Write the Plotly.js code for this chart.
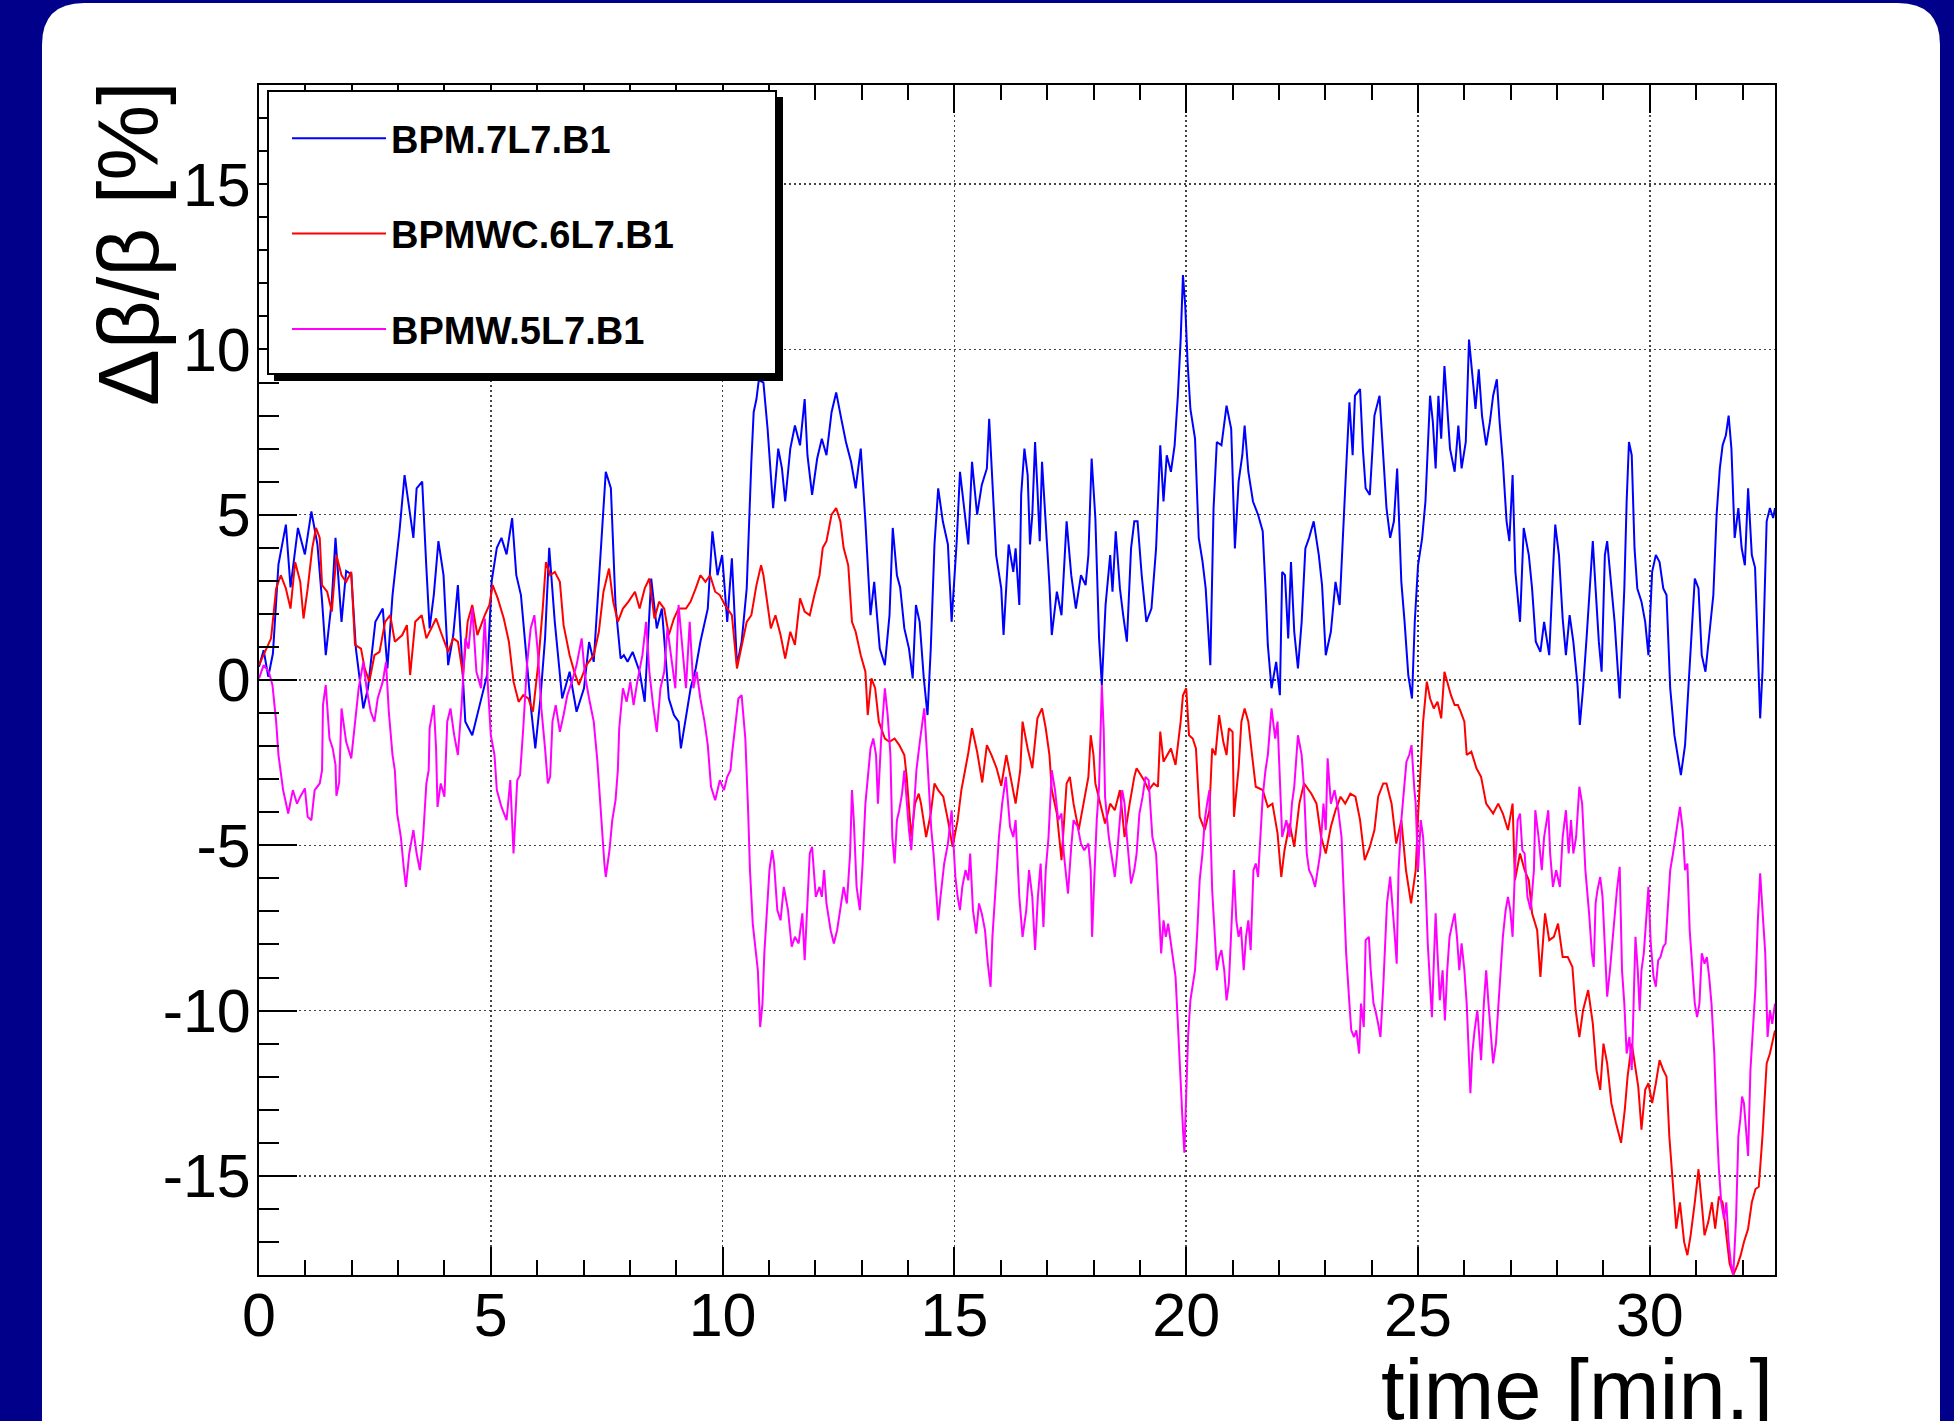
<!DOCTYPE html>
<html>
<head>
<meta charset="utf-8">
<script src="https://cdn.plot.ly/plotly-3.0.1.min.js"></script>
<style>
html,body{margin:0;padding:0;background:#00008b;}
#chart{width:1954px;height:1421px;}
</style>
</head>
<body>
<div id="chart"></div>
<script>
// ---- data ----
const seriesNames = ['BPM.7L7.B1', 'BPMWC.6L7.B1', 'BPMW.5L7.B1'];
const seriesColors = ['#0000ff', '#ff0000', '#ff00ff'];

const tBPM7 = [0.00,0.10,0.20,0.30,0.42,0.58,0.68,0.84,0.99,1.13,1.26,1.36,1.44,1.57,1.65,1.78,1.88,1.99,2.09,2.25,2.35,2.51,2.67,2.77,2.88,3.03,3.14,3.24,3.33,3.40,3.52,3.61,3.68,3.77,3.87,3.98,4.08,4.19,4.29,4.45,4.60,4.76,4.92,5.02,5.13,5.23,5.34,5.46,5.55,5.65,5.76,5.86,5.96,6.07,6.17,6.26,6.38,6.54,6.70,6.85,7.01,7.12,7.22,7.33,7.41,7.48,7.59,7.69,7.80,7.87,7.95,8.06,8.21,8.32,8.46,8.58,8.69,8.84,8.95,9.05,9.10,9.21,9.31,9.42,9.52,9.68,9.78,9.89,9.99,10.10,10.20,10.31,10.41,10.52,10.57,10.62,10.67,10.73,10.78,10.88,10.97,11.04,11.09,11.20,11.28,11.35,11.46,11.56,11.67,11.77,11.83,11.93,12.04,12.14,12.24,12.35,12.45,12.56,12.66,12.77,12.87,12.98,13.08,13.19,13.27,13.39,13.50,13.60,13.67,13.76,13.83,13.92,14.02,14.10,14.17,14.25,14.34,14.42,14.49,14.57,14.65,14.75,14.86,14.94,15.05,15.12,15.23,15.30,15.38,15.49,15.59,15.70,15.75,15.80,15.90,16.01,16.06,16.17,16.27,16.32,16.40,16.44,16.51,16.58,16.63,16.68,16.74,16.79,16.84,16.89,16.97,17.05,17.10,17.21,17.31,17.42,17.52,17.62,17.73,17.83,17.89,17.96,18.04,18.12,18.18,18.26,18.36,18.41,18.48,18.57,18.64,18.72,18.81,18.88,18.95,19.04,19.14,19.25,19.35,19.44,19.51,19.58,19.67,19.75,19.82,19.88,19.93,19.98,20.03,20.09,20.19,20.27,20.35,20.42,20.52,20.59,20.66,20.76,20.87,20.97,21.05,21.13,21.21,21.26,21.34,21.44,21.55,21.65,21.71,21.76,21.84,21.94,22.02,22.07,22.13,22.20,22.26,22.33,22.41,22.49,22.57,22.65,22.75,22.86,22.93,23.01,23.12,23.22,23.31,23.38,23.45,23.52,23.59,23.64,23.75,23.81,23.87,23.96,24.06,24.17,24.25,24.32,24.40,24.48,24.55,24.64,24.71,24.79,24.87,24.93,25.00,25.09,25.16,25.26,25.32,25.38,25.44,25.50,25.57,25.63,25.69,25.79,25.87,25.94,26.03,26.10,26.17,26.24,26.31,26.38,26.47,26.55,26.62,26.70,26.76,26.83,26.91,26.97,27.04,27.10,27.20,27.28,27.39,27.46,27.54,27.64,27.72,27.83,27.91,27.96,28.04,28.12,28.19,28.27,28.35,28.44,28.49,28.56,28.64,28.72,28.77,28.83,28.90,28.96,29.03,29.08,29.17,29.24,29.35,29.45,29.50,29.55,29.61,29.67,29.73,29.82,29.90,29.97,30.05,30.13,30.21,30.29,30.36,30.44,30.53,30.60,30.67,30.76,30.84,30.92,30.97,31.05,31.12,31.20,31.28,31.37,31.44,31.51,31.57,31.64,31.70,31.76,31.83,31.91,31.98,32.05,32.12,32.20,32.27,32.33,32.38,32.43,32.52,32.59,32.66,32.70];
const yBPM7 = [0.4,0.9,0.1,0.8,3.5,4.7,2.8,4.6,3.8,5.1,4.1,2.4,0.75,2.4,4.3,1.76,3.3,3.2,0.95,-0.86,-0.25,1.76,2.16,0.35,2.57,4.5,6.2,5.2,4.3,5.8,6.0,3.4,1.56,2.57,4.2,3.17,0.45,1.36,2.87,-1.26,-1.67,-0.76,0.15,3.0,4.0,4.3,3.8,4.9,3.17,2.57,0.75,-0.76,-2.07,-0.56,1.26,4.0,1.76,-0.56,0.25,-0.96,-0.25,1.15,0.55,2.87,4.6,6.3,5.8,2.27,0.65,0.75,0.55,0.85,0.25,-0.66,3.07,1.56,2.16,-0.56,-1.06,-1.26,-2.07,-1.06,-0.25,0.35,1.15,2.16,4.5,3.17,3.78,1.76,3.68,0.45,1.15,2.77,4.9,6.6,8.1,8.5,9.07,9.0,7.6,6.2,5.2,7.0,6.4,5.4,7.0,7.7,7.1,8.5,6.8,5.6,6.7,7.3,6.8,8.1,8.7,7.9,7.2,6.6,5.8,7.0,4.8,1.96,2.97,0.95,0.45,1.96,4.6,3.17,2.8,1.56,0.95,0.05,2.27,1.76,0.05,-1.06,0.95,4.1,5.8,4.8,4.1,1.76,4.2,6.3,5.0,4.1,6.6,5.0,5.9,6.4,7.9,6.4,3.78,2.77,1.36,4.1,3.27,3.98,2.27,5.6,7.0,6.2,4.1,5.0,7.2,5.8,4.2,6.6,4.8,2.87,1.36,2.67,1.96,4.8,3.17,2.16,3.17,2.87,3.78,6.7,4.9,1.26,-0.15,2.27,3.78,2.67,4.5,2.77,1.96,1.16,3.98,4.8,4.8,3.17,1.76,2.16,3.98,7.1,5.4,6.8,6.3,7.1,8.6,10.3,12.25,11.3,9.6,8.2,7.3,4.3,3.6,2.77,0.45,5.2,7.2,7.1,8.3,7.6,3.98,6.0,6.8,7.7,6.3,5.4,5.0,4.5,2.77,1.06,-0.25,0.55,-0.46,3.27,3.17,1.26,3.57,1.46,0.35,1.76,3.98,4.3,4.8,3.78,2.87,0.75,1.46,2.97,2.27,4.5,6.4,8.4,6.8,8.6,8.8,7.0,5.8,5.6,8.0,8.6,6.8,5.2,4.3,4.8,6.4,2.97,1.76,0.15,-0.56,1.76,3.47,4.3,5.4,8.6,7.8,6.4,8.6,7.3,9.5,8.3,7.0,6.3,7.7,6.4,7.2,10.3,9.3,8.2,9.4,8.0,7.1,7.8,8.6,9.1,7.8,6.6,4.8,4.2,6.2,3.27,1.76,4.6,3.78,2.77,1.16,0.85,1.76,0.75,3.27,4.7,3.78,1.86,0.75,1.96,1.16,-0.15,-1.36,-0.25,1.36,3.27,4.2,2.77,1.16,0.25,3.78,4.2,2.77,1.76,-0.56,2.77,5.4,7.2,6.8,3.98,2.77,2.37,1.76,0.75,3.27,3.78,3.57,2.77,2.57,-0.25,-1.67,-2.27,-2.88,-1.97,0.05,1.76,3.07,2.77,0.75,0.25,1.26,2.57,5.0,6.4,7.1,7.4,8.0,7.0,4.3,5.2,4.0,3.47,5.8,3.78,3.4,0.75,-1.16,0.25,4.8,5.2,4.9,5.2];

const tBPMWC6 = [0.00,0.10,0.26,0.37,0.47,0.58,0.68,0.78,0.89,0.96,1.05,1.15,1.23,1.31,1.36,1.47,1.57,1.67,1.78,1.88,1.99,2.07,2.20,2.28,2.38,2.49,2.60,2.72,2.83,2.93,3.09,3.19,3.26,3.37,3.51,3.61,3.71,3.82,3.92,4.08,4.19,4.29,4.40,4.50,4.60,4.71,4.87,4.97,5.04,5.15,5.28,5.39,5.49,5.60,5.70,5.81,5.91,6.02,6.12,6.19,6.28,6.38,6.49,6.57,6.70,6.80,6.90,7.06,7.22,7.33,7.43,7.55,7.64,7.74,7.85,7.97,8.11,8.21,8.32,8.42,8.53,8.63,8.74,8.84,8.95,9.05,9.21,9.31,9.42,9.52,9.63,9.73,9.84,9.94,10.05,10.20,10.31,10.41,10.52,10.62,10.73,10.83,10.88,10.97,11.04,11.14,11.25,11.35,11.46,11.56,11.67,11.77,11.88,11.98,12.09,12.16,12.24,12.35,12.45,12.54,12.61,12.71,12.79,12.87,12.98,13.08,13.13,13.21,13.29,13.37,13.50,13.60,13.71,13.81,13.92,13.97,14.07,14.15,14.23,14.28,14.39,14.49,14.57,14.65,14.76,14.86,14.96,15.07,15.15,15.23,15.30,15.38,15.49,15.60,15.70,15.80,15.91,16.01,16.12,16.22,16.32,16.42,16.47,16.58,16.68,16.79,16.89,16.97,17.05,17.10,17.21,17.31,17.42,17.49,17.57,17.68,17.78,17.89,17.94,18.00,18.04,18.15,18.25,18.36,18.46,18.57,18.67,18.78,18.88,18.93,19.09,19.19,19.30,19.39,19.44,19.51,19.67,19.77,19.88,19.93,20.00,20.06,20.14,20.21,20.29,20.40,20.50,20.56,20.63,20.71,20.80,20.87,20.92,21.00,21.03,21.13,21.19,21.26,21.34,21.42,21.50,21.65,21.76,21.86,21.97,22.05,22.12,22.23,22.33,22.44,22.54,22.70,22.81,22.91,23.01,23.12,23.22,23.33,23.43,23.54,23.65,23.75,23.85,23.96,24.06,24.14,24.25,24.32,24.43,24.53,24.64,24.74,24.85,24.95,25.00,25.11,25.19,25.26,25.34,25.42,25.50,25.57,25.65,25.71,25.79,25.86,25.92,26.00,26.05,26.15,26.26,26.36,26.47,26.62,26.73,26.83,26.94,27.04,27.09,27.20,27.30,27.39,27.46,27.57,27.64,27.74,27.83,27.93,28.02,28.12,28.23,28.33,28.40,28.48,28.56,28.67,28.77,28.85,28.93,29.00,29.08,29.17,29.27,29.38,29.46,29.52,29.61,29.69,29.75,29.82,29.90,29.97,30.05,30.13,30.21,30.29,30.36,30.42,30.50,30.57,30.65,30.74,30.81,30.88,30.97,31.05,31.13,31.18,31.26,31.34,31.41,31.49,31.57,31.66,31.72,31.80,31.89,31.96,32.03,32.12,32.20,32.28,32.35,32.43,32.52,32.59,32.66,32.70];
const yBPMWC6 = [0.45,0.75,1.26,2.77,3.17,2.77,2.16,3.57,2.97,1.86,2.77,4.0,4.6,4.3,2.87,2.67,2.07,3.78,3.17,2.97,3.27,1.06,0.95,0.35,-0.05,0.75,0.85,1.76,1.96,1.16,1.36,1.66,0.15,1.76,1.96,1.26,1.56,1.86,1.46,0.85,1.26,1.16,0.15,1.76,2.27,1.36,1.96,2.27,2.87,2.47,1.86,1.16,-0.05,-0.66,-0.46,-0.56,-0.96,0.45,2.16,3.57,3.17,3.27,2.97,1.66,0.75,0.25,-0.15,0.45,0.75,1.46,2.67,3.37,2.37,1.76,2.16,2.37,2.67,2.16,2.77,3.07,1.86,2.37,2.16,1.36,1.86,2.16,2.16,2.37,2.77,3.17,2.97,3.17,2.67,2.57,2.27,1.96,0.35,1.06,1.76,1.96,2.87,3.47,3.17,2.27,1.56,1.96,1.36,0.65,1.46,1.06,2.47,2.07,1.96,2.57,3.17,4.0,4.2,5.0,5.2,4.8,4.0,3.47,1.76,1.46,0.75,0.25,-1.06,0.05,-0.25,-1.26,-1.77,-1.87,-1.77,-1.97,-2.27,-2.93,-4.75,-3.74,-3.44,-3.74,-4.75,-4.04,-3.13,-3.33,-3.53,-4.24,-5.05,-4.24,-3.33,-2.73,-2.2,-1.46,-2.17,-3.1,-1.97,-2.27,-2.67,-3.2,-2.27,-3.0,-3.74,-2.73,-1.26,-2.07,-2.67,-1.16,-0.86,-1.46,-2.27,-3.33,-4.04,-5.45,-3.13,-2.93,-3.74,-4.54,-3.74,-2.93,-1.67,-2.27,-3.13,-3.74,-4.34,-3.74,-3.94,-3.33,-4.75,-3.74,-2.93,-2.67,-3.03,-3.33,-3.13,-3.23,-1.56,-2.47,-2.07,-2.57,-1.26,-0.46,-0.25,-1.67,-1.77,-2.07,-4.14,-4.54,-3.94,-2.07,-2.27,-1.06,-1.87,-2.27,-1.46,-1.57,-4.14,-2.67,-1.26,-0.86,-1.26,-2.27,-3.23,-3.33,-3.84,-3.74,-4.64,-5.96,-5.15,-4.34,-5.05,-3.74,-3.13,-3.44,-3.74,-4.75,-5.25,-4.44,-3.94,-3.53,-3.74,-3.44,-3.53,-4.24,-5.45,-5.05,-4.54,-3.53,-3.13,-3.13,-3.74,-4.95,-4.24,-5.75,-6.76,-5.75,-4.14,-1.26,-0.05,-0.56,-0.86,-0.66,-1.16,0.25,-0.15,-0.46,-0.76,-0.76,-0.96,-1.26,-2.27,-2.17,-2.67,-2.93,-3.74,-4.04,-3.74,-4.04,-4.54,-3.74,-6.06,-5.25,-5.75,-6.06,-7.06,-7.57,-8.98,-7.06,-7.87,-7.77,-7.37,-8.38,-8.38,-8.68,-9.99,-10.8,-9.99,-9.38,-10.39,-11.8,-12.4,-11.0,-11.6,-12.8,-13.4,-14.0,-13.0,-12.0,-11.0,-11.7,-12.3,-13.6,-12.4,-12.2,-12.8,-12.2,-11.5,-11.8,-12.0,-13.8,-15.33,-16.6,-15.8,-17.0,-17.4,-16.8,-15.8,-14.8,-16.0,-16.8,-16.4,-15.8,-16.6,-15.63,-15.8,-16.8,-17.65,-18.0,-17.7,-17.4,-17.0,-16.6,-15.8,-15.4,-15.33,-13.8,-11.6,-11.3,-10.8,-10.6];

const tBPMW5 = [0.00,0.10,0.21,0.29,0.37,0.42,0.52,0.63,0.73,0.82,0.89,0.99,1.05,1.13,1.20,1.31,1.36,1.38,1.44,1.52,1.59,1.65,1.67,1.73,1.78,1.88,1.99,2.07,2.15,2.25,2.32,2.41,2.49,2.56,2.67,2.74,2.80,2.88,2.93,2.98,3.06,3.12,3.17,3.24,3.33,3.40,3.47,3.54,3.61,3.66,3.68,3.77,3.82,3.85,3.92,4.00,4.06,4.13,4.21,4.29,4.37,4.45,4.52,4.60,4.69,4.79,4.87,4.94,5.00,5.08,5.13,5.23,5.34,5.42,5.49,5.57,5.63,5.70,5.78,5.86,5.94,6.02,6.09,6.17,6.23,6.28,6.33,6.40,6.49,6.57,6.65,6.75,6.85,6.96,7.03,7.12,7.22,7.30,7.38,7.45,7.48,7.56,7.62,7.69,7.74,7.77,7.85,7.93,8.01,8.08,8.16,8.27,8.35,8.42,8.50,8.58,8.66,8.74,8.81,8.89,8.98,9.05,9.12,9.21,9.29,9.37,9.44,9.52,9.61,9.68,9.75,9.84,9.94,10.03,10.10,10.17,10.20,10.34,10.41,10.49,10.55,10.59,10.65,10.72,10.76,10.81,10.86,10.90,10.97,11.01,11.07,11.11,11.18,11.25,11.32,11.41,11.49,11.56,11.64,11.72,11.77,11.83,11.88,11.93,12.01,12.09,12.14,12.19,12.24,12.33,12.40,12.47,12.56,12.61,12.68,12.75,12.79,12.83,12.89,12.96,13.02,13.08,13.14,13.19,13.25,13.31,13.35,13.42,13.50,13.56,13.62,13.66,13.71,13.76,13.81,13.87,13.92,13.97,14.02,14.07,14.13,14.18,14.26,14.35,14.42,14.50,14.55,14.60,14.65,14.70,14.78,14.86,14.94,15.02,15.07,15.12,15.17,15.24,15.30,15.34,15.40,15.47,15.53,15.59,15.66,15.72,15.78,15.82,15.89,15.96,16.03,16.11,16.20,16.27,16.32,16.40,16.47,16.55,16.61,16.68,16.74,16.80,16.86,16.92,16.97,17.03,17.10,17.17,17.24,17.31,17.36,17.45,17.52,17.57,17.66,17.73,17.80,17.89,17.94,17.97,18.01,18.07,18.12,18.16,18.18,18.22,18.25,18.33,18.39,18.46,18.51,18.57,18.62,18.67,18.72,18.81,18.88,18.93,18.99,19.06,19.12,19.19,19.27,19.35,19.42,19.46,19.51,19.56,19.61,19.67,19.72,19.77,19.82,19.87,19.93,19.96,20.00,20.04,20.09,20.14,20.19,20.24,20.29,20.35,20.40,20.45,20.50,20.56,20.61,20.66,20.71,20.76,20.82,20.87,20.92,20.97,21.03,21.08,21.13,21.18,21.24,21.29,21.34,21.39,21.45,21.50,21.55,21.60,21.65,21.71,21.76,21.84,21.92,21.97,22.02,22.07,22.16,22.23,22.28,22.33,22.41,22.49,22.54,22.60,22.65,22.72,22.78,22.83,22.89,22.96,23.01,23.05,23.12,23.20,23.28,23.35,23.41,23.45,23.52,23.56,23.62,23.67,23.73,23.77,23.83,23.87,23.94,23.98,24.04,24.08,24.14,24.19,24.25,24.29,24.33,24.40,24.46,24.50,24.54,24.58,24.64,24.69,24.75,24.81,24.86,24.92,24.95,25.00,25.06,25.11,25.16,25.21,25.27,25.30,25.34,25.38,25.42,25.47,25.53,25.58,25.63,25.68,25.74,25.79,25.84,25.89,25.94,26.00,26.05,26.10,26.13,26.17,26.22,26.28,26.32,26.36,26.42,26.47,26.52,26.57,26.62,26.68,26.73,26.78,26.83,26.89,26.94,26.99,27.04,27.09,27.15,27.20,27.25,27.30,27.36,27.43,27.50,27.53,27.60,27.67,27.72,27.81,27.85,27.91,27.98,28.06,28.12,28.19,28.25,28.30,28.35,28.41,28.48,28.54,28.61,28.69,28.75,28.79,28.83,28.87,28.93,28.98,29.03,29.08,29.14,29.19,29.24,29.29,29.35,29.40,29.45,29.50,29.56,29.61,29.65,29.69,29.74,29.78,29.82,29.87,29.92,29.97,30.02,30.08,30.13,30.18,30.23,30.29,30.34,30.39,30.44,30.50,30.55,30.60,30.65,30.71,30.76,30.81,30.86,30.92,30.97,31.02,31.07,31.12,31.18,31.23,31.28,31.33,31.39,31.44,31.49,31.54,31.60,31.65,31.70,31.75,31.80,31.86,31.91,31.95,31.99,32.03,32.08,32.12,32.17,32.22,32.28,32.33,32.38,32.43,32.49,32.54,32.59,32.64,32.70];
const yBPMW5 = [0.05,0.45,0.25,-0.15,-1.26,-2.27,-3.33,-4.04,-3.33,-3.74,-3.53,-3.28,-4.14,-4.24,-3.33,-3.13,-2.73,-0.76,-0.15,-1.77,-2.07,-2.57,-3.5,-3.1,-0.86,-1.87,-2.37,-1.26,-0.25,0.55,-0.25,-0.96,-1.26,-0.56,-0.05,0.55,-0.96,-2.27,-2.73,-4.04,-4.75,-5.65,-6.26,-5.25,-4.54,-5.25,-5.75,-4.75,-3.13,-2.73,-1.46,-0.76,-2.07,-3.84,-3.13,-3.53,-1.26,-0.86,-1.67,-2.27,-0.76,1.26,0.95,2.16,0.25,-0.25,1.86,-0.25,-1.67,-2.27,-3.33,-3.84,-4.24,-3.03,-5.25,-3.03,-2.88,-1.46,0.45,1.56,1.96,0.75,-0.86,-2.07,-3.13,-2.93,-1.26,-0.76,-1.57,-1.06,-0.46,-0.05,0.45,1.26,0.15,-0.56,-1.26,-2.47,-4.24,-5.55,-5.96,-5.15,-4.24,-3.64,-2.73,-1.46,-0.25,-0.66,-0.05,-0.76,-0.05,0.75,1.76,0.25,-0.76,-1.57,-0.25,0.25,1.56,0.75,-0.25,2.27,1.26,-0.25,1.76,-0.25,0.25,-0.56,-1.26,-1.97,-3.23,-3.64,-3.03,-3.33,-2.93,-2.73,-2.27,-0.56,-0.46,-1.77,-3.94,-5.75,-7.37,-8.27,-8.78,-10.5,-9.79,-8.27,-6.76,-5.75,-5.15,-5.55,-6.96,-7.27,-6.26,-6.96,-8.07,-7.77,-7.97,-7.06,-8.48,-6.76,-5.25,-5.05,-6.56,-6.26,-6.56,-5.75,-6.76,-7.57,-7.97,-7.57,-6.76,-6.26,-6.76,-5.25,-3.33,-4.24,-6.26,-6.96,-5.55,-3.74,-2.83,-2.07,-1.77,-2.27,-3.74,-1.77,-0.25,-1.06,-2.27,-4.75,-5.55,-4.24,-3.94,-3.44,-2.73,-3.74,-4.54,-5.15,-3.74,-2.73,-1.8,-0.86,-2.5,-4.5,-5.25,-6.26,-7.27,-6.56,-5.55,-4.95,-3.94,-5.95,-6.56,-6.96,-6.26,-5.75,-6.06,-5.25,-6.96,-7.67,-6.76,-7.06,-7.57,-8.58,-9.28,-7.77,-6.26,-4.75,-3.74,-2.93,-4.44,-4.75,-4.24,-6.56,-7.77,-6.96,-5.75,-6.56,-8.17,-6.56,-5.55,-7.47,-5.75,-4.75,-2.73,-3.33,-4.24,-4.04,-5.25,-6.46,-5.05,-4.24,-4.44,-4.95,-5.15,-4.95,-5.75,-7.77,-6.26,-4.24,-3.23,-1.2,-0.15,-1.5,-3.54,-4.75,-5.25,-5.96,-5.25,-4.24,-3.33,-3.74,-4.75,-6.16,-5.75,-5.25,-4.04,-3.53,-2.93,-3.03,-4.75,-5.25,-7.06,-8.27,-7.27,-7.77,-7.37,-7.97,-8.38,-8.98,-10.4,-12.0,-13.6,-14.3,-12.8,-10.8,-9.69,-9.28,-8.78,-7.57,-6.06,-5.25,-4.24,-3.74,-3.33,-6.36,-7.77,-8.78,-8.38,-8.17,-8.78,-9.69,-9.18,-7.77,-5.75,-7.27,-7.77,-7.47,-8.78,-7.77,-7.27,-8.17,-5.75,-5.55,-5.96,-4.75,-3.53,-2.73,-2.27,-0.86,-1.77,-1.26,-2.9,-4.75,-4.24,-4.75,-3.74,-3.23,-1.67,-2.27,-3.23,-5.25,-5.75,-5.96,-6.26,-5.75,-5.25,-3.74,-4.54,-2.37,-3.74,-3.33,-3.94,-4.75,-6.76,-8.27,-9.79,-10.6,-10.8,-10.6,-11.3,-9.79,-10.5,-7.87,-7.77,-8.78,-9.79,-9.99,-10.4,-10.8,-9.28,-7.77,-6.76,-5.95,-6.96,-7.77,-8.58,-5.75,-4.24,-3.33,-2.47,-2.27,-1.97,-3.3,-3.74,-5.75,-4.24,-4.75,-6.06,-7.97,-9.28,-10.2,-8.58,-7.06,-8.27,-9.69,-8.78,-10.3,-8.78,-7.77,-7.37,-7.06,-7.77,-8.78,-7.97,-8.78,-9.79,-11.8,-12.5,-11.3,-10.6,-9.99,-10.8,-11.5,-9.79,-8.78,-9.79,-10.8,-11.6,-11.0,-9.99,-8.78,-7.77,-6.96,-6.56,-6.96,-7.77,-5.75,-4.24,-4.04,-5.15,-5.25,-6.56,-6.96,-5.75,-3.94,-4.75,-5.75,-4.75,-3.94,-5.25,-6.26,-5.75,-6.26,-4.75,-3.94,-5.25,-4.24,-5.25,-4.75,-3.23,-3.74,-5.75,-7.06,-8.27,-8.68,-6.76,-6.36,-5.96,-6.56,-8.27,-9.58,-8.78,-7.97,-7.27,-6.36,-5.65,-8.78,-9.79,-11.3,-10.8,-11.8,-9.79,-7.77,-8.78,-9.99,-8.78,-8.27,-7.27,-6.26,-7.97,-8.98,-9.28,-8.48,-8.38,-8.07,-7.97,-6.76,-5.75,-5.25,-4.75,-4.24,-3.84,-4.54,-5.75,-5.55,-7.57,-8.78,-9.79,-10.2,-9.79,-8.27,-8.58,-8.38,-8.98,-9.79,-11.3,-13.3,-14.8,-15.8,-16.3,-15.8,-17.0,-17.65,-18.0,-16.3,-13.8,-13.3,-12.6,-12.8,-13.8,-14.4,-11.8,-10.8,-9.28,-7.27,-5.85,-6.96,-8.27,-10.8,-9.99,-10.4,-9.79];

const xTickVals = [0, 5, 10, 15, 20, 25, 30];
const xTickText = ['0', '5', '10', '15', '20', '25', '30'];
const yTickVals = [-15, -10, -5, 0, 5, 10, 15];
const yTickText = ['-15', '-10', '-5', '0', '5', '10', '15'];
const xTitle = 'time [min.]';
const yTitle = 'Δβ/β [%]';

// ---- geometry helpers (pixels -> paper) ----
const W = 1954, H = 1421, ML = 259, MR = 179, MT = 85, MB = 146;
const PW = W - ML - MR, PH = H - MT - MB;
const px = x => (x - ML) / PW;
const py = y => (H - MB - y) / PH;

const FONT = 'Liberation Sans, Arial, Helvetica, sans-serif';

// rounded white panel
const pl = 42, pr = 1940, ptop = 3, pbot = 1520, rad = 42;
const panelPath = 'M' + px(pl) + ',' + py(pbot) +
  ' L' + px(pl) + ',' + py(ptop + rad) +
  ' Q' + px(pl) + ',' + py(ptop) + ' ' + px(pl + rad) + ',' + py(ptop) +
  ' L' + px(pr - rad) + ',' + py(ptop) +
  ' Q' + px(pr) + ',' + py(ptop) + ' ' + px(pr) + ',' + py(ptop + rad) +
  ' L' + px(pr) + ',' + py(pbot) + ' Z';

const tSets = [tBPM7, tBPMWC6, tBPMW5];
const ySets = [yBPM7, yBPMWC6, yBPMW5];
const traces = seriesNames.map((n, i) => ({
  type: 'scatter', mode: 'lines', name: n,
  x: tSets[i], y: ySets[i],
  legendgroup: 'g' + i,
  line: {color: seriesColors[i], width: 2}
}));

const axisCommon = {
  ticks: 'inside', tickwidth: 2, tickcolor: '#000',
  showline: true, linewidth: 2, linecolor: '#000',
  showgrid: true, gridcolor: '#444', gridwidth: 1.5, griddash: '2px,3px',
  zeroline: false,
  tickfont: {family: FONT, size: 61, color: '#000'},
  tickmode: 'array'
};

const layout = {
  width: W, height: H, autosize: false,
  margin: {l: ML, r: MR, t: MT, b: MB, pad: 0},
  paper_bgcolor: '#00008b', plot_bgcolor: '#ffffff',
  font: {family: FONT, color: '#000'},
  showlegend: true,
  legend: {
    x: px(287), y: py(107), xanchor: 'left', yanchor: 'top',
    bgcolor: 'rgba(0,0,0,0)', borderwidth: 0,
    font: {family: FONT, size: 38, color: '#000', weight: 'bold'},
    itemwidth: 94, tracegroupgap: 43, traceorder: 'grouped'
  },
  xaxis: Object.assign({}, axisCommon, {
    range: [0, 32.7], tickvals: xTickVals, ticktext: xTickText,
    ticklen: 28, mirror: 'ticks', ticklabelstandoff: -14,
    minor: {tickmode: 'linear', tick0: 0, dtick: 1, ticks: 'inside', ticklen: 15, tickwidth: 2, tickcolor: '#000', showgrid: false}
  }),
  yaxis: Object.assign({}, axisCommon, {
    range: [-18, 18], tickvals: yTickVals, ticktext: yTickText,
    ticklen: 38, mirror: true, ticklabelstandoff: -6,
    minor: {tickmode: 'linear', tick0: 0, dtick: 1, ticks: 'inside', ticklen: 20, tickwidth: 2, tickcolor: '#000', showgrid: false}
  }),
  shapes: [
    {type: 'path', xref: 'paper', yref: 'paper', path: panelPath, fillcolor: '#ffffff', line: {width: 0}, layer: 'below'},
    {type: 'rect', xref: 'paper', yref: 'paper', x0: px(274), x1: px(783), y0: py(381), y1: py(97), fillcolor: '#000', line: {width: 0}, layer: 'above'},
    {type: 'rect', xref: 'paper', yref: 'paper', x0: px(268), x1: px(776), y0: py(374), y1: py(91), fillcolor: '#fff', line: {width: 2, color: '#000'}, layer: 'above'}
  ],
  annotations: [
    {text: yTitle, xref: 'paper', yref: 'paper', x: px(129), y: py(244), xanchor: 'center', yanchor: 'middle',
     textangle: -90, showarrow: false, font: {family: FONT, size: 85, color: '#000'}},
    {text: xTitle, xref: 'paper', yref: 'paper', x: px(1775), y: py(1340), xanchor: 'right', yanchor: 'top',
     showarrow: false, font: {family: FONT, size: 85, color: '#000'}}
  ]
};

Plotly.newPlot('chart', traces, layout, {displayModeBar: false, staticPlot: true});
</script>
</body>
</html>
